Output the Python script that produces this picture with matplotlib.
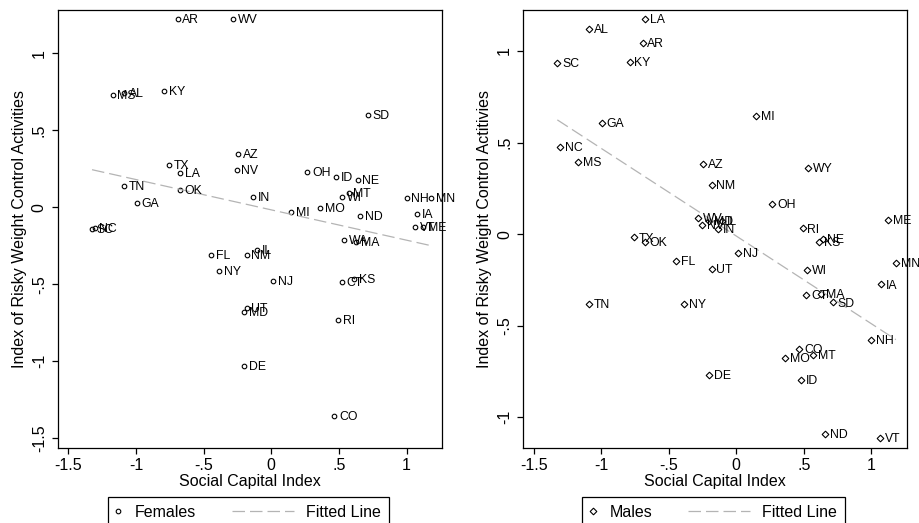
import numpy as np
import matplotlib
matplotlib.use('Agg')
import matplotlib.pyplot as plt
from matplotlib.lines import Line2D
from matplotlib.legend_handler import HandlerBase
from matplotlib.ticker import FuncFormatter

plt.rcParams['font.family'] = ['Liberation Sans', 'DejaVu Sans']
plt.rcParams['axes.unicode_minus'] = False
plt.rcParams['lines.scale_dashes'] = False

# Females: state, social capital index, risky weight control index
states_f = ['AR', 'WV', 'MS', 'AL', 'KY', 'SD', 'AZ', 'TX', 'LA', 'NV', 'OH', 'ID', 'NE',
            'TN', 'OK', 'IN', 'MT', 'WI', 'NH', 'MN', 'GA', 'MI', 'MO', 'ND', 'IA', 'VT',
            'ME', 'SC', 'NC', 'WA', 'MA', 'IL', 'NM', 'FL', 'NY', 'NJ', 'CT', 'KS', 'UT',
            'MD', 'RI', 'DE', 'CO']
sci_f = [-0.693, -0.282, -1.173, -1.09, -0.79, 0.713, -0.245, -0.754, -0.675, -0.255, 0.266,
         0.48, 0.639, -1.09, -0.675, -0.132, 0.572, 0.523, 1.0, 1.182, -0.995, 0.146, 0.361,
         0.657, 1.075, 1.064, 1.125, -1.325, -1.305, 0.541, 0.628, -0.105, -0.182, -0.446,
         -0.388, 0.016, 0.52, 0.612, -0.182, -0.2, 0.492, -0.2, 0.467]
rwc_f = [1.221, 1.221, 0.729, 0.744, 0.755, 0.599, 0.346, 0.275, 0.225, 0.242, 0.227,
         0.195, 0.177, 0.138, 0.112, 0.065, 0.091, 0.065, 0.058, 0.062, 0.028, -0.031, -0.006,
         -0.056, -0.044, -0.126, -0.126, -0.141, -0.136, -0.212, -0.223, -0.277, -0.31, -0.31,
         -0.414, -0.479, -0.485, -0.468, -0.656, -0.682, -0.732, -1.03, -1.355]

# Males
states_m = ['LA', 'AL', 'AR', 'SC', 'KY', 'MI', 'GA', 'NC', 'MS', 'AZ', 'WY', 'NM', 'OH',
            'WV', 'NV', 'MD', 'IL', 'IN', 'TX', 'OK', 'RI', 'NE', 'KS', 'ME', 'MN', 'FL',
            'NJ', 'UT', 'WI', 'IA', 'CT', 'MA', 'SD', 'TN', 'NY', 'NH', 'CO', 'MT', 'MO',
            'DE', 'ID', 'ND', 'VT']
sci_m = [-0.675, -1.09, -0.693, -1.325, -0.79, 0.146, -0.995, -1.305, -1.173, -0.245, 0.534,
         -0.182, 0.266, -0.282, -0.255, -0.2, -0.105, -0.132, -0.754, -0.675, 0.492, 0.639,
         0.612, 1.125, 1.182, -0.446, 0.016, -0.182, 0.523, 1.075, 0.52, 0.628, 0.713, -1.09,
         -0.388, 1.0, 0.467, 0.572, 0.361, -0.2, 0.48, 0.657, 1.064]
rwc_m = [1.173, 1.119, 1.042, 0.936, 0.94, 0.645, 0.605, 0.477, 0.393, 0.383, 0.362, 0.268,
         0.164, 0.086, 0.048, 0.073, 0.07, 0.026, -0.018, -0.044, 0.031, -0.024, -0.045, 0.077,
         -0.155, -0.148, -0.105, -0.191, -0.197, -0.275, -0.333, -0.328, -0.373, -0.379,
         -0.383, -0.579, -0.628, -0.661, -0.674, -0.77, -0.794, -1.093, -1.113]

x_ticks = [-1.5, -1, -0.5, 0, 0.5, 1]
y_ticks_f = [-1.5, -1, -0.5, 0, 0.5, 1]
y_ticks_m = [-1, -0.5, 0, 0.5, 1]

fit_color = '#b4b4b4'


def stata_fmt(v, pos=None):
    s = '%g' % v
    if s.startswith('0.'):
        s = s[1:]
    elif s.startswith('-0.'):
        s = '-' + s[2:]
    return s


class LeftMarker(HandlerBase):
    # marker sits at the left of its handle box
    def create_artists(self, legend, orig_handle, xdescent, ydescent, width, height, fontsize, trans):
        y = (height - ydescent) / 2
        m = Line2D([-xdescent + 0.17 * fontsize], [y])
        self.update_prop(m, orig_handle, legend)
        m.set_transform(trans)
        return [m]


class LongDash(HandlerBase):
    # dashed line that reaches back into the column gap
    def create_artists(self, legend, orig_handle, xdescent, ydescent, width, height, fontsize, trans):
        y = (height - ydescent) / 2
        ln = Line2D([-xdescent - 3.45 * fontsize, -xdescent + 0.42 * fontsize], [y, y])
        self.update_prop(ln, orig_handle, legend)
        ln.set_transform(trans)
        return [ln]


def panel(fig, ax, states, sci, rwc, marker, ms, label, ylabel, yticks, ylim, legend_x):
    sci = np.asarray(sci)
    rwc = np.asarray(rwc)
    pts, = ax.plot(sci, rwc, ls='none', marker=marker, ms=ms, mfc='none', mec='black',
                   mew=0.8, label=label)
    for s, x, y in zip(states, sci, rwc):
        ax.annotate(s, (x, y), xytext=(3.4, -0.8), textcoords='offset points',
                    fontsize=8.8, ha='left', va='center')

    slope, intercept = np.polyfit(sci, rwc, 1)
    xs = np.array([sci.min(), sci.max()])
    fit, = ax.plot(xs, intercept + slope * xs, color=fit_color, lw=0.9,
                   ls=(0, (9, 3.6)), label='Fitted Line')

    ax.set_xlim(-1.577, 1.262)
    ax.set_ylim(*ylim)
    ax.set_xticks(x_ticks)
    ax.set_yticks(yticks)
    ax.xaxis.set_major_formatter(FuncFormatter(stata_fmt))
    ax.yaxis.set_major_formatter(FuncFormatter(stata_fmt))
    ax.tick_params(axis='both', direction='out', length=4, width=0.9, labelsize=11.5,
                   color='black')
    ax.tick_params(axis='y', labelrotation=90, pad=4)
    for t in ax.get_yticklabels():
        t.set_va('center')
    for sp in ax.spines.values():
        sp.set_linewidth(0.9)
        sp.set_color('black')
    ax.set_xlabel('Social Capital Index', fontsize=11.5, labelpad=0.5)
    ax.set_ylabel(ylabel, fontsize=11.5, labelpad=3.5)

    leg = ax.legend(handles=[pts, fit], loc='upper left', bbox_to_anchor=(legend_x, 0.0503),
                    bbox_transform=fig.transFigure, ncol=2, handlelength=0.8,
                    handletextpad=0.39, columnspacing=5.7, borderpad=0.5, borderaxespad=0,
                    fancybox=False, edgecolor='black', framealpha=1, fontsize=11.5,
                    handler_map={pts: LeftMarker(), fit: LongDash()})
    leg.get_frame().set_linewidth(0.9)


fig = plt.figure(figsize=(9.2, 5.23), dpi=100)
ax1 = fig.add_axes([0.063, 0.1434, 0.4174, 0.8375])
ax2 = fig.add_axes([0.5688, 0.1434, 0.4167, 0.8375])

panel(fig, ax1, states_f, sci_f, rwc_f, 'o', 3.3, 'Females',
      'Index of Risky Weight Control Activities', y_ticks_f, (-1.563, 1.28), 0.1171)
panel(fig, ax2, states_m, sci_m, rwc_m, 'D', 3.4, 'Males',
      'Index of Risky Weight Control Actitivies', y_ticks_m, (-1.168, 1.224), 0.633)

fig.savefig('out.png', dpi=100)
